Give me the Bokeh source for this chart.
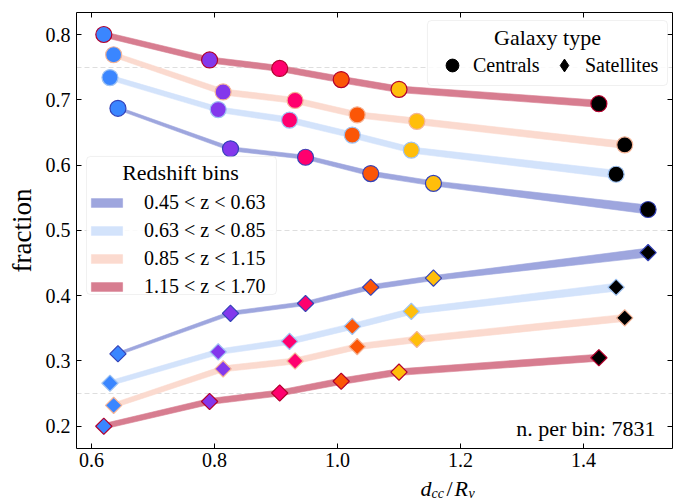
import numpy as np
from bokeh.plotting import figure
from bokeh.layouts import column
from bokeh.models import (ColumnDataSource, Range1d, FixedTicker, LinearAxis,
                          Legend, LegendItem, Label, BoxAnnotation)
from bokeh.embed import file_html
from bokeh.resources import INLINE

FONT = "Liberation Serif"

# redshift bins (legend labels)
z_bins = ["0.45 < z < 0.63", "0.63 < z < 0.85", "0.85 < z < 1.15", "1.15 < z < 1.70"]

# mean d_cc / R_v of the six distance bins, one list per redshift bin
d_z1 = [0.643, 0.826, 0.948, 1.054, 1.156, 1.505]
d_z2 = [0.630, 0.806, 0.922, 1.024, 1.120, 1.453]
d_z3 = [0.636, 0.814, 0.931, 1.032, 1.129, 1.467]
d_z4 = [0.620, 0.792, 0.906, 1.006, 1.100, 1.425]

# fraction of centrals
cen_z1 = [0.687, 0.625, 0.612, 0.587, 0.572, 0.532]
cen_z2 = [0.734, 0.685, 0.669, 0.646, 0.623, 0.586]
cen_z3 = [0.769, 0.712, 0.699, 0.677, 0.667, 0.631]
cen_z4 = [0.800, 0.761, 0.748, 0.731, 0.716, 0.694]

# fraction of satellites
sat_z1 = [0.311, 0.373, 0.388, 0.413, 0.427, 0.466]
sat_z2 = [0.266, 0.314, 0.330, 0.353, 0.376, 0.413]
sat_z3 = [0.232, 0.288, 0.300, 0.322, 0.333, 0.366]
sat_z4 = [0.200, 0.238, 0.251, 0.269, 0.283, 0.305]

# uncertainty on the fractions (half width of the shaded band)
err_z1 = [0.0023, 0.0031, 0.0031, 0.0038, 0.0038, 0.0069]
err_z2 = [0.0038, 0.0042, 0.0046, 0.0046, 0.0046, 0.0061]
err_z3 = [0.0038, 0.0046, 0.0046, 0.0046, 0.0050, 0.0054]
err_z4 = [0.0042, 0.0046, 0.0046, 0.0050, 0.0050, 0.0054]

n_per_bin = 7831

x_ticks = [0.6, 0.8, 1.0, 1.2, 1.4]
x_tick_labels = ["0.6", "0.8", "1.0", "1.2", "1.4"]
y_ticks = [0.2, 0.3, 0.4, 0.5, 0.6, 0.7, 0.8]
y_tick_labels = ["0.2", "0.3", "0.4", "0.5", "0.6", "0.7", "0.8"]
grid_ticks = [0.25, 0.5, 0.75]

# marker colour of each distance bin, band and edge colour of each redshift bin
bin_colors = ["#3a86ff", "#8338ec", "#ff006e", "#fb5607", "#ffbe0b", "#000000"]
band_colors = ["#9ea6de", "#d3e3fb", "#fbdacf", "#d77d90"]
edge_colors = ["#3442b8", "#9fc3f2", "#f4b497", "#b3002d"]

dists = [d_z1, d_z2, d_z3, d_z4]
cens = [cen_z1, cen_z2, cen_z3, cen_z4]
sats = [sat_z1, sat_z2, sat_z3, sat_z4]
errs = [err_z1, err_z2, err_z3, err_z4]

p = figure(width=673, height=474, output_backend="svg", toolbar_location=None,
           title=None,
           x_range=Range1d(0.5756, 1.5447), y_range=Range1d(0.166, 0.8337),
           min_border_left=76, min_border_right=1, min_border_top=12,
           min_border_bottom=26)
p.outline_line_color = None
p.background_fill_color = "white"
p.border_fill_color = "white"

# bottom / left axes
xa = p.xaxis[0]
ya = p.yaxis[0]
for ax, ticks, labels in ((xa, x_ticks, x_tick_labels), (ya, y_ticks, y_tick_labels)):
    ax.ticker = FixedTicker(ticks=ticks)
    ax.major_label_overrides = dict(zip(ticks, labels))
    ax.major_tick_in = 5
    ax.major_tick_out = 0
    ax.minor_tick_in = 0
    ax.minor_tick_out = 0
    ax.axis_line_color = "black"
    ax.major_tick_line_color = "black"
    ax.major_label_text_font = FONT
    ax.major_label_text_font_size = "20px"
    ax.major_label_text_color = "black"
xa.major_label_standoff = 4
ya.major_label_standoff = 6
ya.axis_label = "fraction"
ya.axis_label_text_font = FONT
ya.axis_label_text_font_size = "27px"
ya.axis_label_text_font_style = "normal"
ya.axis_label_text_color = "black"
ya.axis_label_standoff = 6

# mirrored ticks on top and right
for loc, ticks in (("above", x_ticks), ("right", y_ticks)):
    ax = LinearAxis(ticker=FixedTicker(ticks=ticks),
                    major_label_overrides={t: "" for t in ticks},
                    major_label_text_font_size="0px", major_label_standoff=0,
                    major_tick_in=5, major_tick_out=0,
                    minor_tick_in=0, minor_tick_out=0,
                    axis_line_color="black", major_tick_line_color="black")
    p.add_layout(ax, loc)

p.xgrid.visible = False
p.ygrid.ticker = FixedTicker(ticks=grid_ticks)
p.ygrid.grid_line_color = "#dedede"
p.ygrid.grid_line_dash = "5 3"
p.ygrid.grid_line_width = 1

band_renderers = []
for k in range(4):
    x = np.array(dists[k])
    e = np.array(errs[k])
    for frac in (cens[k], sats[k]):
        y = np.array(frac)
        r = p.patch(np.concatenate([x, x[::-1]]),
                    np.concatenate([y + e, (y - e)[::-1]]),
                    fill_color=band_colors[k], line_color=band_colors[k],
                    line_width=0.6)
    band_renderers.append(r)
    src = ColumnDataSource(dict(x=dists[k], cen=cens[k], sat=sats[k], c=bin_colors))
    p.scatter("x", "cen", source=src, marker="circle", size=16,
              fill_color="c", line_color=edge_colors[k], line_width=1.2)
    p.scatter("x", "sat", source=src, marker="square", angle=np.pi / 4, size=11.5,
              fill_color="c", line_color=edge_colors[k], line_width=1.2)

# legend keys for the galaxy type
key_src = ColumnDataSource(dict(x=[np.nan], y=[np.nan]))
r_cen = p.scatter("x", "y", source=key_src, marker="circle", size=13,
                  fill_color="black", line_color="black")
r_sat = p.scatter("x", "y", source=key_src, marker="diamond", size=13,
                  fill_color="black", line_color="black")

# legend frames and titles
frame_style = dict(fill_color="white", fill_alpha=0.85, line_color="#cccccc",
                   line_width=1, border_radius=4)
p.add_layout(BoxAnnotation(left=1.1463, right=1.5366, top=0.8214, bottom=0.7219,
                           **frame_style))
p.add_layout(BoxAnnotation(left=0.5919, right=0.9008, top=0.6132, bottom=0.4018,
                           **frame_style))
title_style = dict(text_font=FONT, text_font_size="22px", text_align="center",
                   text_baseline="middle", text_color="black")
p.add_layout(Label(x=1.3415, y=0.7948, text="Galaxy type", **title_style))
p.add_layout(Label(x=0.7447, y=0.5880, text="Redshift bins", **title_style))

leg_z = Legend(items=[LegendItem(label=lab, renderers=[r])
                      for lab, r in zip(z_bins, band_renderers)],
               location=(11, 150), orientation="vertical",
               glyph_width=39, glyph_height=11, label_height=20, spacing=5,
               padding=5, margin=0, label_standoff=18,
               label_text_font=FONT, label_text_font_size="20px",
               label_text_color="black",
               border_line_color=None, background_fill_alpha=0)
p.add_layout(leg_z)

leg_g = Legend(items=[LegendItem(label="Centrals", renderers=[r_cen]),
                      LegendItem(label="Satellites", renderers=[r_sat])],
               location=(360, 367), orientation="horizontal",
               glyph_width=32, glyph_height=32, label_height=20, spacing=7,
               padding=0, margin=0, label_standoff=5, label_width=68,
               label_text_font=FONT, label_text_font_size="20px",
               label_text_color="black",
               border_line_color=None, background_fill_alpha=0)
p.add_layout(leg_g)

p.add_layout(Label(x=1.517, y=0.1966, text=f"n. per bin: {n_per_bin}",
                   text_font=FONT, text_font_size="22px", text_align="right",
                   text_baseline="alphabetic", text_color="black"))

# x axis title d_cc / R_v, set in a strip under the plot (pixel coordinates);
# the strip's frame is fixed to its full size so nothing is trimmed
cap = figure(width=673, height=30, frame_width=673, frame_height=30,
             output_backend="svg", toolbar_location=None, title=None,
             x_range=Range1d(0, 673), y_range=Range1d(30, 0),
             x_axis_type=None, y_axis_type=None,
             min_border=0, min_border_left=0, min_border_right=0,
             min_border_top=0, min_border_bottom=0)
cap.outline_line_color = None
cap.grid.visible = False
cap.border_fill_color = "white"
cap.background_fill_color = "white"
xlab = [("d", 344, 14, "italic", "22px"),
        ("cc", 355, 19, "italic", "14px"),
        ("/", 370, 14, "normal", "22px"),
        ("R", 378, 14, "italic", "22px"),
        ("v", 392, 19, "italic", "14px")]
for txt, lx, ly, style, size in xlab:
    cap.add_layout(Label(x=lx, y=ly, text=txt, text_font=FONT, text_font_style=style,
                         text_font_size=size, text_baseline="middle",
                         text_color="black"))

open("out.html", "w").write(file_html(column(p, cap, spacing=0), INLINE))
